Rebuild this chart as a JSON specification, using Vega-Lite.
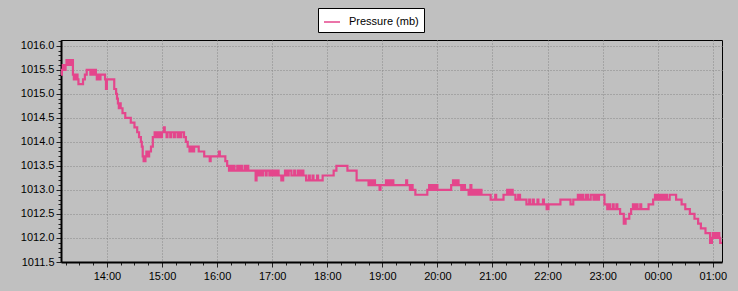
{
  "$schema": "https://vega.github.io/schema/vega-lite/v6.json",
  "width": 661,
  "height": 222,
  "autosize": {"type": "none"},
  "padding": {"left": 61, "top": 40, "right": 16, "bottom": 29},
  "background": "#c0c0c0",
  "config": {
    "view": {"fill": "#c0c0c0", "stroke": "#000000", "strokeWidth": 1},
    "font": "Liberation Sans",
    "axis": {"labelFont": "Liberation Sans", "labelFontSize": 11, "labelColor": "#000000", "domainColor": "#000000", "tickColor": "#222222", "title": null}
  },
  "data": {"values": [
    {"t":"2024-01-01T13:10","p":1015.4},{"t":"2024-01-01T13:11","p":1015.5},{"t":"2024-01-01T13:12","p":1015.6},{"t":"2024-01-01T13:14","p":1015.5},
    {"t":"2024-01-01T13:15","p":1015.6},{"t":"2024-01-01T13:16","p":1015.7},{"t":"2024-01-01T13:17","p":1015.6},{"t":"2024-01-01T13:18","p":1015.7},
    {"t":"2024-01-01T13:20","p":1015.6},{"t":"2024-01-01T13:21","p":1015.7},{"t":"2024-01-01T13:23","p":1015.4},{"t":"2024-01-01T13:24","p":1015.3},
    {"t":"2024-01-01T13:25","p":1015.4},{"t":"2024-01-01T13:26","p":1015.3},{"t":"2024-01-01T13:27","p":1015.4},{"t":"2024-01-01T13:28","p":1015.3},
    {"t":"2024-01-01T13:29","p":1015.2},{"t":"2024-01-01T13:34","p":1015.3},{"t":"2024-01-01T13:36","p":1015.4},{"t":"2024-01-01T13:38","p":1015.5},
    {"t":"2024-01-01T13:42","p":1015.4},{"t":"2024-01-01T13:43","p":1015.5},{"t":"2024-01-01T13:45","p":1015.4},{"t":"2024-01-01T13:46","p":1015.5},
    {"t":"2024-01-01T13:48","p":1015.4},{"t":"2024-01-01T13:49","p":1015.3},{"t":"2024-01-01T13:50","p":1015.4},{"t":"2024-01-01T13:51","p":1015.3},
    {"t":"2024-01-01T13:53","p":1015.4},{"t":"2024-01-01T13:58","p":1015.3},{"t":"2024-01-01T13:59","p":1015.1},{"t":"2024-01-01T14:00","p":1015.3},
    {"t":"2024-01-01T14:08","p":1015.1},{"t":"2024-01-01T14:10","p":1015.0},{"t":"2024-01-01T14:11","p":1014.9},{"t":"2024-01-01T14:12","p":1014.8},
    {"t":"2024-01-01T14:13","p":1014.7},{"t":"2024-01-01T14:14","p":1014.8},{"t":"2024-01-01T14:15","p":1014.7},{"t":"2024-01-01T14:17","p":1014.6},
    {"t":"2024-01-01T14:20","p":1014.5},{"t":"2024-01-01T14:26","p":1014.4},{"t":"2024-01-01T14:30","p":1014.3},{"t":"2024-01-01T14:33","p":1014.2},
    {"t":"2024-01-01T14:35","p":1014.1},{"t":"2024-01-01T14:37","p":1014.0},{"t":"2024-01-01T14:38","p":1013.9},{"t":"2024-01-01T14:39","p":1013.7},
    {"t":"2024-01-01T14:40","p":1013.6},{"t":"2024-01-01T14:42","p":1013.7},{"t":"2024-01-01T14:43","p":1013.8},{"t":"2024-01-01T14:45","p":1013.7},
    {"t":"2024-01-01T14:46","p":1013.8},{"t":"2024-01-01T14:48","p":1013.9},{"t":"2024-01-01T14:50","p":1014.1},{"t":"2024-01-01T14:52","p":1014.2},
    {"t":"2024-01-01T14:54","p":1014.1},{"t":"2024-01-01T14:55","p":1014.2},{"t":"2024-01-01T14:56","p":1014.1},{"t":"2024-01-01T14:57","p":1014.2},
    {"t":"2024-01-01T14:59","p":1014.1},{"t":"2024-01-01T15:00","p":1014.2},{"t":"2024-01-01T15:02","p":1014.3},{"t":"2024-01-01T15:03","p":1014.2},
    {"t":"2024-01-01T15:05","p":1014.1},{"t":"2024-01-01T15:06","p":1014.2},{"t":"2024-01-01T15:09","p":1014.1},{"t":"2024-01-01T15:10","p":1014.2},
    {"t":"2024-01-01T15:13","p":1014.1},{"t":"2024-01-01T15:14","p":1014.2},{"t":"2024-01-01T15:17","p":1014.1},{"t":"2024-01-01T15:18","p":1014.2},
    {"t":"2024-01-01T15:20","p":1014.1},{"t":"2024-01-01T15:21","p":1014.2},{"t":"2024-01-01T15:24","p":1014.1},{"t":"2024-01-01T15:26","p":1014.0},
    {"t":"2024-01-01T15:28","p":1013.9},{"t":"2024-01-01T15:30","p":1013.8},{"t":"2024-01-01T15:31","p":1013.9},{"t":"2024-01-01T15:32","p":1013.8},
    {"t":"2024-01-01T15:33","p":1013.9},{"t":"2024-01-01T15:34","p":1013.8},{"t":"2024-01-01T15:35","p":1013.9},{"t":"2024-01-01T15:40","p":1013.8},
    {"t":"2024-01-01T15:46","p":1013.7},{"t":"2024-01-01T15:52","p":1013.6},{"t":"2024-01-01T15:53","p":1013.7},{"t":"2024-01-01T16:02","p":1013.8},
    {"t":"2024-01-01T16:03","p":1013.7},{"t":"2024-01-01T16:09","p":1013.6},{"t":"2024-01-01T16:11","p":1013.5},{"t":"2024-01-01T16:13","p":1013.4},
    {"t":"2024-01-01T16:15","p":1013.5},{"t":"2024-01-01T16:16","p":1013.4},{"t":"2024-01-01T16:18","p":1013.5},{"t":"2024-01-01T16:19","p":1013.4},
    {"t":"2024-01-01T16:22","p":1013.5},{"t":"2024-01-01T16:23","p":1013.4},{"t":"2024-01-01T16:25","p":1013.5},{"t":"2024-01-01T16:27","p":1013.4},
    {"t":"2024-01-01T16:30","p":1013.5},{"t":"2024-01-01T16:31","p":1013.4},{"t":"2024-01-01T16:33","p":1013.5},{"t":"2024-01-01T16:34","p":1013.4},
    {"t":"2024-01-01T16:42","p":1013.2},{"t":"2024-01-01T16:43","p":1013.4},{"t":"2024-01-01T16:45","p":1013.3},{"t":"2024-01-01T16:46","p":1013.4},
    {"t":"2024-01-01T16:48","p":1013.3},{"t":"2024-01-01T16:50","p":1013.4},{"t":"2024-01-01T16:53","p":1013.3},{"t":"2024-01-01T16:54","p":1013.4},
    {"t":"2024-01-01T16:57","p":1013.3},{"t":"2024-01-01T16:58","p":1013.4},{"t":"2024-01-01T17:00","p":1013.3},{"t":"2024-01-01T17:01","p":1013.4},
    {"t":"2024-01-01T17:03","p":1013.3},{"t":"2024-01-01T17:05","p":1013.4},{"t":"2024-01-01T17:07","p":1013.3},{"t":"2024-01-01T17:10","p":1013.2},
    {"t":"2024-01-01T17:12","p":1013.3},{"t":"2024-01-01T17:14","p":1013.4},{"t":"2024-01-01T17:16","p":1013.3},{"t":"2024-01-01T17:18","p":1013.4},
    {"t":"2024-01-01T17:21","p":1013.3},{"t":"2024-01-01T17:24","p":1013.4},{"t":"2024-01-01T17:25","p":1013.3},{"t":"2024-01-01T17:28","p":1013.4},
    {"t":"2024-01-01T17:30","p":1013.3},{"t":"2024-01-01T17:32","p":1013.4},{"t":"2024-01-01T17:34","p":1013.3},{"t":"2024-01-01T17:37","p":1013.2},
    {"t":"2024-01-01T17:40","p":1013.3},{"t":"2024-01-01T17:41","p":1013.2},{"t":"2024-01-01T17:44","p":1013.3},{"t":"2024-01-01T17:45","p":1013.2},
    {"t":"2024-01-01T17:49","p":1013.3},{"t":"2024-01-01T17:50","p":1013.2},{"t":"2024-01-01T17:55","p":1013.3},{"t":"2024-01-01T18:07","p":1013.4},
    {"t":"2024-01-01T18:10","p":1013.5},{"t":"2024-01-01T18:22","p":1013.4},{"t":"2024-01-01T18:32","p":1013.2},{"t":"2024-01-01T18:45","p":1013.1},
    {"t":"2024-01-01T18:47","p":1013.2},{"t":"2024-01-01T18:49","p":1013.1},{"t":"2024-01-01T18:50","p":1013.2},{"t":"2024-01-01T18:52","p":1013.1},
    {"t":"2024-01-01T18:57","p":1013.0},{"t":"2024-01-01T18:58","p":1013.1},{"t":"2024-01-01T19:04","p":1013.2},{"t":"2024-01-01T19:05","p":1013.1},
    {"t":"2024-01-01T19:06","p":1013.2},{"t":"2024-01-01T19:08","p":1013.1},{"t":"2024-01-01T19:10","p":1013.2},{"t":"2024-01-01T19:12","p":1013.1},
    {"t":"2024-01-01T19:26","p":1013.2},{"t":"2024-01-01T19:27","p":1013.1},{"t":"2024-01-01T19:30","p":1013.0},{"t":"2024-01-01T19:32","p":1013.1},
    {"t":"2024-01-01T19:33","p":1013.0},{"t":"2024-01-01T19:36","p":1012.9},{"t":"2024-01-01T19:49","p":1013.0},{"t":"2024-01-01T19:51","p":1013.1},
    {"t":"2024-01-01T19:52","p":1013.0},{"t":"2024-01-01T19:54","p":1013.1},{"t":"2024-01-01T19:56","p":1013.0},{"t":"2024-01-01T19:58","p":1013.1},
    {"t":"2024-01-01T20:00","p":1013.0},{"t":"2024-01-01T20:15","p":1013.1},{"t":"2024-01-01T20:17","p":1013.2},{"t":"2024-01-01T20:19","p":1013.1},
    {"t":"2024-01-01T20:21","p":1013.2},{"t":"2024-01-01T20:23","p":1013.1},{"t":"2024-01-01T20:26","p":1013.0},{"t":"2024-01-01T20:28","p":1013.1},
    {"t":"2024-01-01T20:30","p":1013.0},{"t":"2024-01-01T20:34","p":1012.9},{"t":"2024-01-01T20:36","p":1013.1},{"t":"2024-01-01T20:37","p":1012.9},
    {"t":"2024-01-01T20:39","p":1013.0},{"t":"2024-01-01T20:40","p":1012.9},{"t":"2024-01-01T20:42","p":1013.0},{"t":"2024-01-01T20:44","p":1012.9},
    {"t":"2024-01-01T20:46","p":1013.0},{"t":"2024-01-01T20:48","p":1012.9},{"t":"2024-01-01T20:58","p":1012.8},{"t":"2024-01-01T21:03","p":1012.9},
    {"t":"2024-01-01T21:04","p":1012.8},{"t":"2024-01-01T21:12","p":1012.9},{"t":"2024-01-01T21:16","p":1013.0},{"t":"2024-01-01T21:18","p":1012.9},
    {"t":"2024-01-01T21:20","p":1013.0},{"t":"2024-01-01T21:22","p":1012.9},{"t":"2024-01-01T21:25","p":1012.8},{"t":"2024-01-01T21:28","p":1012.9},
    {"t":"2024-01-01T21:30","p":1012.8},{"t":"2024-01-01T21:37","p":1012.7},{"t":"2024-01-01T21:40","p":1012.8},{"t":"2024-01-01T21:41","p":1012.7},
    {"t":"2024-01-01T21:44","p":1012.8},{"t":"2024-01-01T21:45","p":1012.7},{"t":"2024-01-01T21:49","p":1012.8},{"t":"2024-01-01T21:50","p":1012.7},
    {"t":"2024-01-01T21:55","p":1012.8},{"t":"2024-01-01T21:56","p":1012.7},{"t":"2024-01-01T21:59","p":1012.6},{"t":"2024-01-01T22:01","p":1012.7},
    {"t":"2024-01-01T22:14","p":1012.8},{"t":"2024-01-01T22:25","p":1012.7},{"t":"2024-01-01T22:28","p":1012.8},{"t":"2024-01-01T22:33","p":1012.9},
    {"t":"2024-01-01T22:35","p":1012.8},{"t":"2024-01-01T22:37","p":1012.9},{"t":"2024-01-01T22:39","p":1012.8},{"t":"2024-01-01T22:42","p":1012.9},
    {"t":"2024-01-01T22:44","p":1012.8},{"t":"2024-01-01T22:47","p":1012.9},{"t":"2024-01-01T22:50","p":1012.8},{"t":"2024-01-01T22:52","p":1012.9},
    {"t":"2024-01-01T22:54","p":1012.8},{"t":"2024-01-01T22:56","p":1012.9},{"t":"2024-01-01T23:02","p":1012.7},{"t":"2024-01-01T23:05","p":1012.6},
    {"t":"2024-01-01T23:07","p":1012.7},{"t":"2024-01-01T23:08","p":1012.6},{"t":"2024-01-01T23:11","p":1012.7},{"t":"2024-01-01T23:12","p":1012.6},
    {"t":"2024-01-01T23:15","p":1012.7},{"t":"2024-01-01T23:16","p":1012.6},{"t":"2024-01-01T23:19","p":1012.5},{"t":"2024-01-01T23:23","p":1012.3},
    {"t":"2024-01-01T23:25","p":1012.4},{"t":"2024-01-01T23:29","p":1012.5},{"t":"2024-01-01T23:31","p":1012.6},{"t":"2024-01-01T23:33","p":1012.7},
    {"t":"2024-01-01T23:35","p":1012.6},{"t":"2024-01-01T23:37","p":1012.7},{"t":"2024-01-01T23:38","p":1012.6},{"t":"2024-01-01T23:41","p":1012.7},
    {"t":"2024-01-01T23:42","p":1012.6},{"t":"2024-01-01T23:50","p":1012.7},{"t":"2024-01-01T23:55","p":1012.8},{"t":"2024-01-01T23:57","p":1012.9},
    {"t":"2024-01-01T23:59","p":1012.8},{"t":"2024-01-02T00:01","p":1012.9},{"t":"2024-01-02T00:03","p":1012.8},{"t":"2024-01-02T00:05","p":1012.9},
    {"t":"2024-01-02T00:07","p":1012.8},{"t":"2024-01-02T00:09","p":1012.9},{"t":"2024-01-02T00:10","p":1012.8},{"t":"2024-01-02T00:13","p":1012.9},
    {"t":"2024-01-02T00:20","p":1012.8},{"t":"2024-01-02T00:26","p":1012.7},{"t":"2024-01-02T00:30","p":1012.6},{"t":"2024-01-02T00:35","p":1012.5},
    {"t":"2024-01-02T00:40","p":1012.4},{"t":"2024-01-02T00:44","p":1012.3},{"t":"2024-01-02T00:47","p":1012.2},{"t":"2024-01-02T00:52","p":1012.1},
    {"t":"2024-01-02T00:57","p":1011.9},{"t":"2024-01-02T00:59","p":1012.0},{"t":"2024-01-02T01:00","p":1012.1},{"t":"2024-01-02T01:01","p":1012.0},
    {"t":"2024-01-02T01:03","p":1012.1},{"t":"2024-01-02T01:04","p":1012.0},{"t":"2024-01-02T01:06","p":1012.1},{"t":"2024-01-02T01:07","p":1012.0},
    {"t":"2024-01-02T01:08","p":1011.9},{"t":"2024-01-02T01:10","p":1011.9}
  ]},
  "layer": [
    {
      "mark": {"type": "line", "strokeOpacity": 0},
      "encoding": {
        "x": {"field": "t", "type": "temporal", "scale": {"domain": [{"year": 2024, "month": 1, "date": 1, "hours": 13, "minutes": 10}, {"year": 2024, "month": 1, "date": 2, "hours": 1, "minutes": 10}]},
          "axis": {"orient": "bottom", "tickCount": 48, "labels": false, "grid": false, "domain": false, "tickSize": 3}},
        "y": {"field": "p", "type": "quantitative", "scale": {"domain": [1011.5, 1016.12], "nice": false, "zero": false},
          "axis": {"orient": "left", "values": [1011.5,1011.6,1011.7,1011.8,1011.9,1012.0,1012.1,1012.2,1012.3,1012.4,1012.5,1012.6,1012.7,1012.8,1012.9,1013.0,1013.1,1013.2,1013.3,1013.4,1013.5,1013.6,1013.7,1013.8,1013.9,1014.0,1014.1,1014.2,1014.3,1014.4,1014.5,1014.6,1014.7,1014.8,1014.9,1015.0,1015.1,1015.2,1015.3,1015.4,1015.5,1015.6,1015.7,1015.8,1015.9,1016.0,1016.1], "labels": false, "grid": false, "domain": false, "tickSize": 3}}
      }
    },
    {
      "mark": {"type": "line", "interpolate": "step-after", "strokeWidth": 2.2},
      "encoding": {
        "x": {"field": "t", "type": "temporal",
          "axis": {"orient": "bottom", "tickCount": 12, "format": "%H:%M", "grid": true, "gridColor": "#888888", "gridDash": [1, 2], "domainWidth": 2, "tickSize": 5, "labelPadding": 3}},
        "y": {"field": "p", "type": "quantitative",
          "axis": {"orient": "left", "values": [1011.5,1012.0,1012.5,1013.0,1013.5,1014.0,1014.5,1015.0,1015.5,1016.0], "format": ".1f", "grid": true, "gridColor": "#888888", "gridDash": [1, 2], "domainWidth": 2, "tickSize": 5, "labelPadding": 2}},
        "color": {"datum": "Pressure (mb)", "type": "nominal", "scale": {"range": ["#e4468c"]},
          "legend": {"title": null, "orient": "none", "legendX": 257, "legendY": -32, "symbolType": "stroke", "symbolSize": 256, "symbolStrokeWidth": 1.5, "fillColor": "#ffffff", "strokeColor": "#000000", "padding": 5, "labelFontSize": 11, "labelFont": "Liberation Sans", "labelColor": "#000000", "labelOffset": 8}}
      }
    }
  ],
  "resolve": {"axis": {"x": "independent", "y": "independent"}}
}
